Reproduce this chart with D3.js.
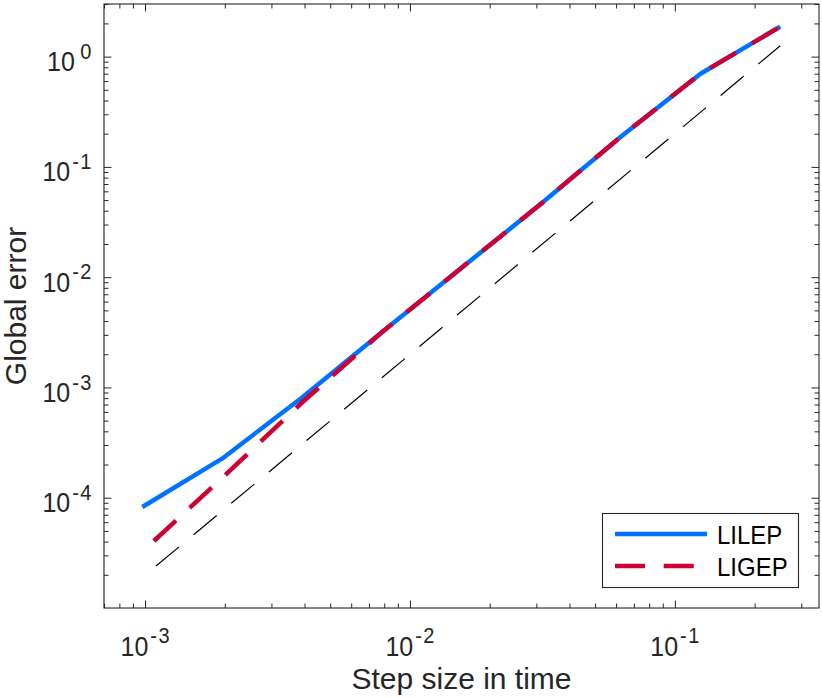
<!DOCTYPE html>
<html><head><meta charset="utf-8">
<script src="https://cdn.jsdelivr.net/npm/d3@7"></script>
<style>body{margin:0;background:#fff}svg{display:block}text{font-family:"Liberation Sans",Arial,Helvetica,sans-serif}</style>
</head><body><div id="chart"></div>
<script>
// ---- data ----
const stepSizes = [0.0009765625, 0.001953125, 0.00390625, 0.0078125, 0.015625, 0.03125, 0.0625, 0.125, 0.25];
const lilepError = [8.24e-5, 2.26e-4, 8.07e-4, 3.15e-3, 1.21e-2, 4.63e-2, 0.188, 0.70, 1.87];
const ligepSteps = [0.00108, 0.001953125, 0.00390625, 0.0078125, 0.015625, 0.03125, 0.0625, 0.125, 0.25];
const ligepError = [4.05e-5, 1.51e-4, 7.26e-4, 3.15e-3, 1.21e-2, 4.63e-2, 0.188, 0.70, 1.87];
const refSteps = [0.00110, 0.25];
const refError = [2.40e-5, 1.256];
const xMajor = [1e-3, 1e-2, 1e-1];
const xMajorExp = ["-3", "-2", "-1"];
const yMajor = [1e-4, 1e-3, 1e-2, 1e-1, 1];
const yMajorExp = ["-4", "-3", "-2", "-1", "0"];
const seriesNames = ["LILEP", "LIGEP"];

const W = 822, H = 697;
const m = {left: 104, top: 4, right: 3, bottom: 89};
const w = W - m.left - m.right, h = H - m.top - m.bottom;
const x = d3.scaleLog().domain([7e-4, 0.35]).range([0, w]);
const y = d3.scaleLog().domain([1e-5, 3]).range([h, 0]);

function minors(dom) {
  const out = [];
  for (let e = -6; e <= 1; e++) for (let k = 2; k <= 9; k++) {
    const v = k * Math.pow(10, e);
    if (v >= dom[0] * 0.999 && v <= dom[1] * 1.001) out.push(v);
  }
  return out;
}
const xMinor = minors(x.domain()), yMinor = minors(y.domain());

const svg = d3.select("#chart").append("svg").attr("width", W).attr("height", H);
const g = svg.append("g").attr("transform", `translate(${m.left},${m.top})`);
const axCol = "#262626";

function addAxis(axisFn, scale, vals, size, tr) {
  const a = g.append("g").attr("transform", tr)
    .call(axisFn(scale).tickValues(vals).tickSize(-size).tickSizeOuter(0).tickFormat(""));
  a.select(".domain").remove();
  a.selectAll("line").attr("stroke", axCol).attr("stroke-width", 1);
}
addAxis(d3.axisBottom, x, xMajor, 7.5, `translate(0,${h})`);
addAxis(d3.axisBottom, x, xMinor, 4.5, `translate(0,${h})`);
addAxis(d3.axisTop, x, xMajor, 7.5, `translate(0,0)`);
addAxis(d3.axisTop, x, xMinor, 4.5, `translate(0,0)`);
addAxis(d3.axisLeft, y, yMajor, 7.5, `translate(0,0)`);
addAxis(d3.axisLeft, y, yMinor, 4.5, `translate(0,0)`);
addAxis(d3.axisRight, y, yMajor, 7.5, `translate(${w},0)`);
addAxis(d3.axisRight, y, yMinor, 4.5, `translate(${w},0)`);

g.append("rect").attr("x", 0).attr("y", 0).attr("width", w).attr("height", h)
  .attr("fill", "none").attr("stroke", axCol).attr("stroke-width", 1.1);

// tick labels (power-of-ten with superscript)
const SY = 1.12;
function powLabel(px, py, anchor, exp) {
  const t = g.append("text").attr("transform", `translate(${px},${py}) scale(1,${SY})`)
    .attr("text-anchor", anchor).attr("fill", axCol).style("font-size", "25px");
  t.append("tspan").text("10");
  if (exp.startsWith("-")) {
    t.append("tspan").attr("dx", 2).attr("dy", -11).style("font-size", "20px").text("-");
    t.append("tspan").attr("dx", 1.5).style("font-size", "20px").text(exp.slice(1));
  } else {
    t.append("tspan").attr("dx", 5.5).attr("dy", -11).style("font-size", "20px").text(exp);
  }
}
xMajor.forEach((v, i) => powLabel(x(v), h + 47.7, "middle", xMajorExp[i]));
yMajor.forEach((v, i) => powLabel(-12.5, y(v) + 14.4, "end", yMajorExp[i]));

// axis labels
svg.append("text").attr("x", m.left + w / 2).attr("y", 689).attr("text-anchor", "middle")
  .attr("fill", axCol).style("font-size", "30px").text("Step size in time");
svg.append("text").attr("transform", `translate(26,${m.top + h / 2}) rotate(-90)`)
  .attr("text-anchor", "middle").attr("fill", axCol).style("font-size", "30px").text("Global error");

// lines
const line = d3.line().x(d => x(d[0])).y(d => y(d[1]));
const blue = "#0072ff", red = "#cc0033";
g.append("path").datum(refSteps.map((s, i) => [s, refError[i]])).attr("d", line)
  .attr("fill", "none").attr("stroke", "#000").attr("stroke-width", 1.2).attr("stroke-dasharray", "30,19");
g.append("path").datum(stepSizes.map((s, i) => [s, lilepError[i]])).attr("d", line)
  .attr("fill", "none").attr("stroke", blue).attr("stroke-width", 4.5).attr("stroke-linejoin", "round");
g.append("path").datum(ligepSteps.map((s, i) => [s, ligepError[i]])).attr("d", line)
  .attr("fill", "none").attr("stroke", red).attr("stroke-width", 4.5).attr("stroke-dasharray", "30,18.7");

// legend
const lg = svg.append("g");
lg.append("rect").attr("x", 602.5).attr("y", 513.5).attr("width", 196).attr("height", 74)
  .attr("fill", "#fff").attr("stroke", axCol).attr("stroke-width", 1.1);
[[blue, null], [red, "30,18.7"]].forEach((s, i) => {
  const yy = 534 + i * 32;
  const l = lg.append("line").attr("x1", 615).attr("x2", 707).attr("y1", yy).attr("y2", yy)
    .attr("stroke", s[0]).attr("stroke-width", 4.5);
  if (s[1]) l.attr("stroke-dasharray", s[1]);
  lg.append("text").attr("transform", `translate(717,${yy + 10}) scale(1,1.1)`)
    .attr("fill", "#000").style("font-size", "24px").text(seriesNames[i]);
});
</script></body></html>
